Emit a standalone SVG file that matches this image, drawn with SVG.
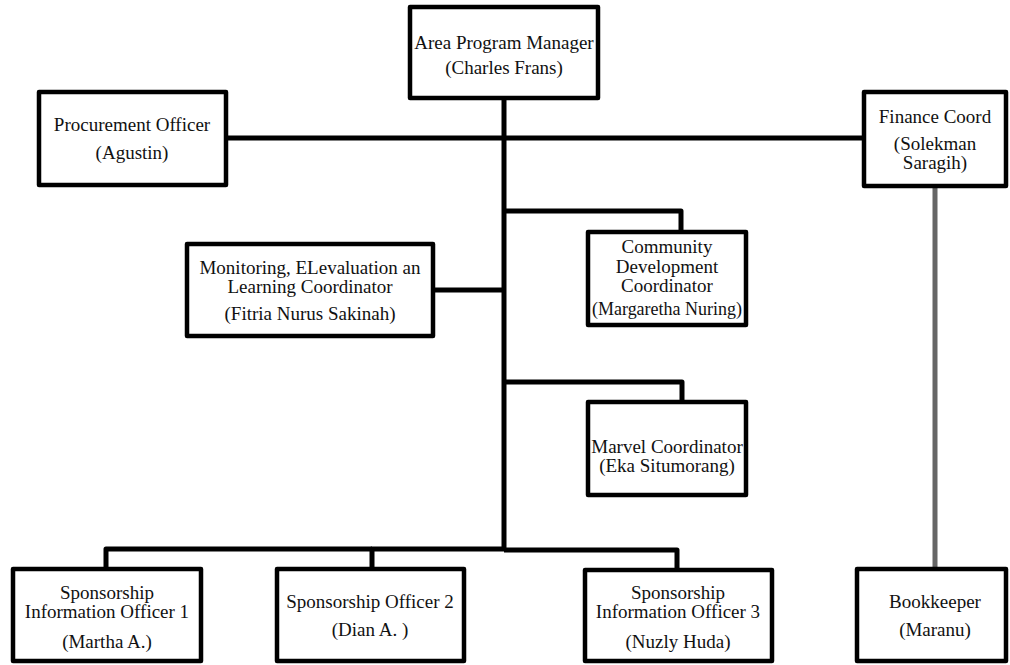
<svg xmlns="http://www.w3.org/2000/svg" width="1010" height="665" viewBox="0 0 1010 665">
<style>
.box{fill:#fff;stroke:#000;stroke-width:4.5;stroke-linejoin:round}
.t{font-family:"Liberation Serif","DejaVu Serif",serif;font-size:19px;fill:#111;text-anchor:middle}
.c{fill:none;stroke:#000;stroke-width:5;stroke-linejoin:round}
.g{fill:none;stroke:#666;stroke-width:5}
</style>
<rect width="1010" height="665" fill="#fff"/>
<g id="connectors">
<path class="c" d="M504 100 V550"/>
<path class="c" d="M228 138 H864"/>
<path class="g" d="M935 188 V568"/>
<path class="c" d="M435 290 H504"/>
<path class="c" d="M504 211 H681 V232"/>
<path class="c" d="M504 382 H682 V402"/>
<path class="c" d="M504 549 H372 V567"/>
<path class="c" d="M372 549 H106 V568"/>
<path class="c" d="M504 550 H677 V568"/>
</g>
<g id="apm"><rect class="box" x="410" y="7" width="188" height="91"/>
<text class="t" x="504" y="49">Area Program Manager</text><text class="t" x="504" y="74">(Charles Frans)</text></g>
<g id="procurement"><rect class="box" x="39" y="92" width="187" height="93"/>
<text class="t" x="132" y="131">Procurement Officer</text><text class="t" x="132" y="159">(Agustin)</text></g>
<g id="finance"><rect class="box" x="864" y="92" width="142" height="94"/>
<text class="t" x="935" y="123">Finance Coord</text><text class="t" x="935" y="150">(Solekman</text><text class="t" x="935" y="169">Saragih)</text></g>
<g id="mel"><rect class="box" x="187" y="244" width="246" height="92"/>
<text class="t" x="310" y="274">Monitoring, ELevaluation an</text><text class="t" x="310" y="293">Learning Coordinator</text><text class="t" x="310" y="320">(Fitria Nurus Sakinah)</text></g>
<g id="cdc"><rect class="box" x="588" y="232" width="158" height="93"/>
<text class="t" x="667" y="253">Community</text><text class="t" x="667" y="273">Development</text><text class="t" x="667" y="292">Coordinator</text><text class="t" x="667" y="315" textLength="150" lengthAdjust="spacingAndGlyphs">(Margaretha Nuring)</text></g>
<g id="marvel"><rect class="box" x="588" y="402" width="158" height="93"/>
<text class="t" x="667" y="453">Marvel Coordinator</text><text class="t" x="667" y="472">(Eka Situmorang)</text></g>
<g id="sio1"><rect class="box" x="13" y="569" width="188" height="92"/>
<text class="t" x="107" y="599">Sponsorship</text><text class="t" x="107" y="618">Information Officer 1</text><text class="t" x="107" y="648">(Martha A.)</text></g>
<g id="so2"><rect class="box" x="277" y="569" width="187" height="92"/>
<text class="t" x="370" y="608">Sponsorship Officer 2</text><text class="t" x="370" y="636">(Dian A. )</text></g>
<g id="sio3"><rect class="box" x="585" y="570" width="187" height="91"/>
<text class="t" x="678" y="599">Sponsorship</text><text class="t" x="678" y="618">Information Officer 3</text><text class="t" x="678" y="648">(Nuzly Huda)</text></g>
<g id="bookkeeper"><rect class="box" x="857" y="569" width="149" height="92"/>
<text class="t" x="935" y="608">Bookkeeper</text><text class="t" x="935" y="636">(Maranu)</text></g>
</svg>
